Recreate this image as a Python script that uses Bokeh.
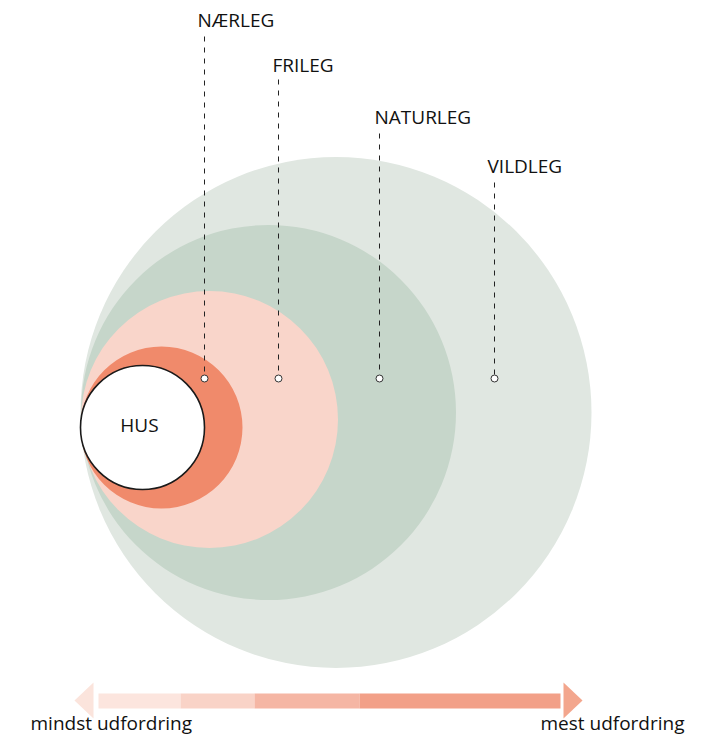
from bokeh.plotting import figure
from bokeh.models import Range1d
from bokeh.core.properties import value
from bokeh.embed import file_html
from bokeh.resources import INLINE

# ---- data ----
zones = ["VILDLEG", "NATURLEG", "FRILEG", "NÆRLEG"]
zone_cx = [335.5, 268, 209, 161]
zone_cy = [412, 412, 419, 427]
zone_r = [255.5, 187.5, 128.5, 81]
zone_colors = ["#e0e7e1", "#c6d6ca", "#f9d5ca", "#f08a6b"]

house_label = "HUS"
house_cx, house_cy, house_r = 142, 427, 62

label_names = ["NÆRLEG", "FRILEG", "NATURLEG", "VILDLEG"]
label_x = [197, 272, 374, 487]
label_y = [19, 64, 116, 165]
line_x = [204, 278, 379, 494]
line_top = [36, 79, 133, 182]
dot_y = 378

scale_left = "mindst udfordring"
scale_right = "mest udfordring"
seg_left = [98, 180, 254, 359]
seg_right = [180, 254, 359, 560]
seg_colors = ["#fce5de", "#f9d3c7", "#f5b6a4", "#f2a088"]

FONT = value("Open Sans")

p = figure(width=698, height=736, output_backend="svg", toolbar_location=None,
           x_range=Range1d(0, 698), y_range=Range1d(736, 0),
           min_border=0, border_fill_color="white", background_fill_color="white")
p.axis.visible = False
p.grid.visible = False
p.outline_line_color = None

# zones
p.circle(x=zone_cx, y=zone_cy, radius=zone_r, fill_color=zone_colors, line_color=None)
# house
p.circle(x=[house_cx], y=[house_cy], radius=[house_r], fill_color="white",
         line_color="#1a1a1a", line_width=1.6)
p.text(x=[house_cx - 3], y=[house_cy - 3], text=[house_label], text_font=FONT,
       text_font_size="19px", text_align="center", text_baseline="middle", text_color="#111111")

# leader lines
p.segment(x0=line_x, y0=line_top, x1=line_x, y1=[dot_y] * 4, line_color="#222222",
          line_width=1, line_dash="5 6")
p.scatter(x=line_x, y=[dot_y] * 4, size=7, marker="circle", fill_color="white",
          line_color="#333333", line_width=1)
p.text(x=label_x, y=label_y, text=label_names, text_font=FONT, text_font_size="19px",
       text_align="left", text_baseline="alphabetic", text_color="#111111")

# challenge scale
p.quad(left=seg_left, right=seg_right, top=[693] * 4, bottom=[708] * 4,
       fill_color=seg_colors, line_color=None)
p.patches(xs=[[74, 93, 93], [563, 582, 563]], ys=[[700, 682, 718], [682, 700, 718]],
          fill_color=["#fbe4dc", "#f3a68d"], line_color=None)
p.text(x=[30], y=[722], text=[scale_left], text_font=FONT, text_font_size="19px",
       text_align="left", text_baseline="alphabetic", text_color="#111111")
p.text(x=[684], y=[722], text=[scale_right], text_font=FONT, text_font_size="19px",
       text_align="right", text_baseline="alphabetic", text_color="#111111")

open("out.html", "w").write(file_html(p, INLINE))
